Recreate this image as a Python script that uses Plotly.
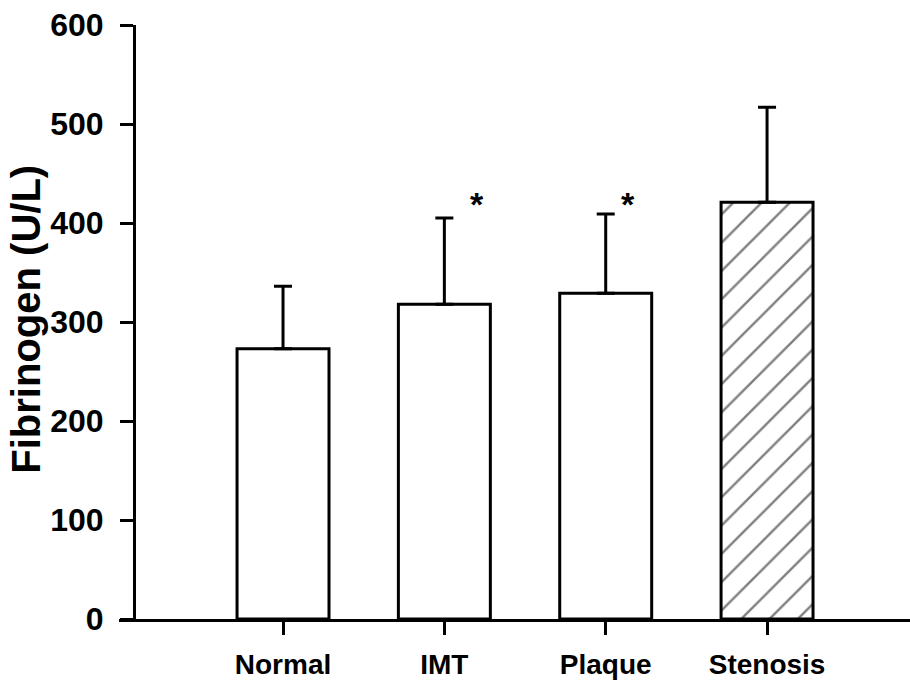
import plotly.graph_objects as go

categories = ["Normal", "IMT", "Plaque", "Stenosis"]
means = [273, 318, 329, 421]
sd_upper = [63, 87, 80, 96]
hatch = ["", "", "", "/"]
star_x = [1.2, 2.14]
star_y = [419, 419]
y_ticks = [0, 100, 200, 300, 400, 500, 600]

FONT = "Liberation Sans, Arial, sans-serif"

fig = go.Figure()
fig.add_trace(go.Bar(
    x=list(range(len(categories))),
    y=means,
    width=0.57,
    marker=dict(
        color="white",
        line=dict(color="black", width=3),
        pattern=dict(shape=hatch, fgcolor="black", bgcolor="white", size=20, solidity=0.12),
    ),
    error_y=dict(type="data", array=sd_upper, arrayminus=[0] * len(means), symmetric=False,
                 color="black", thickness=3, width=9),
    showlegend=False,
))

for xs, ys in zip(star_x, star_y):
    fig.add_annotation(x=xs, y=ys, text="<b>*</b>", showarrow=False,
                       font=dict(family=FONT, size=34, color="black"),
                       xanchor="center", yanchor="middle")

fig.add_annotation(text="<b>Fibrinogen (U/L)</b>", xref="paper", yref="paper",
                   x=-0.118, y=0.505, textangle=-90, showarrow=False,
                   font=dict(family=FONT, size=40, color="black"),
                   xanchor="center", yanchor="middle")

fig.update_layout(
    width=910, height=680,
    margin=dict(l=119, r=0, t=25, b=59),
    paper_bgcolor="white", plot_bgcolor="white",
    font=dict(family=FONT, color="black"),
    xaxis=dict(
        range=[-1.0166, 3.886],
        tickvals=list(range(len(categories))),
        ticktext=["<b>%s</b>" % c for c in categories],
        tickfont=dict(size=28, family=FONT, color="black"),
        showline=True, linecolor="black", linewidth=3,
        ticks="outside", ticklen=13, tickwidth=3, tickcolor="black",
        showgrid=False, zeroline=False,
        ticklabelstandoff=5,
    ),
    yaxis=dict(
        range=[0, 600],
        tickvals=y_ticks,
        ticktext=["<b>%d</b>" % v for v in y_ticks],
        tickfont=dict(size=32, family=FONT, color="black"),
        showline=True, linecolor="black", linewidth=3,
        ticks="outside", ticklen=13, tickwidth=3, tickcolor="black",
        showgrid=False, zeroline=False,
        anchor="free", position=0.019,
        ticklabelstandoff=10,
    ),
)

fig.write_html("out.html")
